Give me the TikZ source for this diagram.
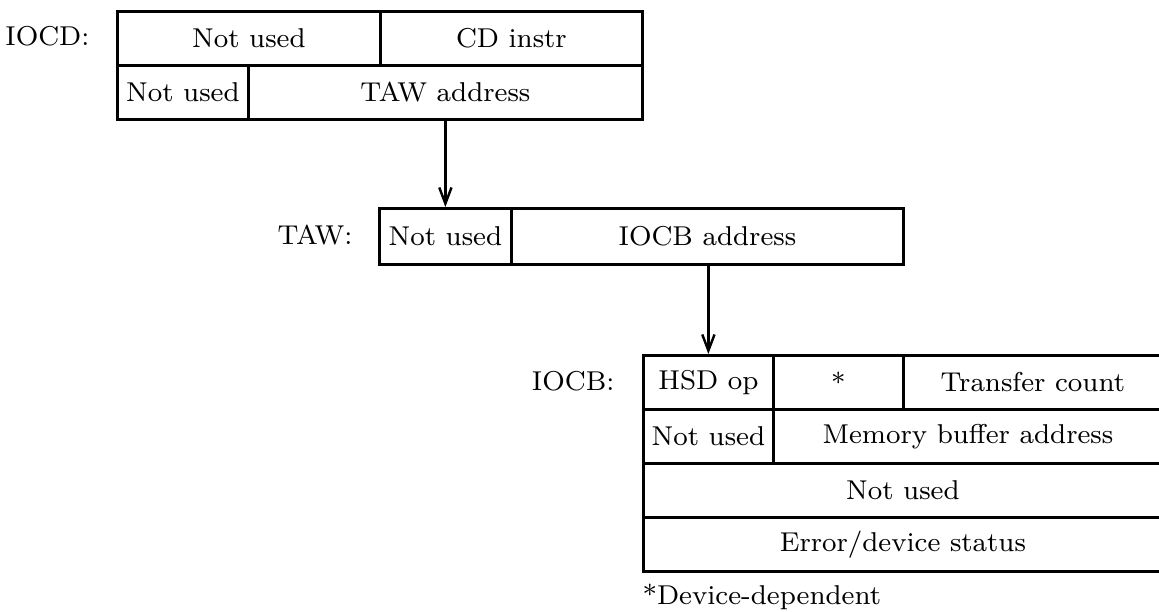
\documentclass[tikz,border=0pt]{standalone}
\usetikzlibrary{arrows.meta}
\newcommand\pxl{0.31pt}
\newcommand\mkcell[6]{\node[cell, minimum width={(#4-#2)*\pxl}, minimum height={(#5-#3)*\pxl}] (#1) at (#2,#3) {#6};}
\tikzset{
  every node/.style={font=\fontsize{8.45}{10}\selectfont, inner sep=0pt},
  cell/.style={draw, line width=0.85pt, anchor=north west, inner sep=0pt},
  lbl/.style={anchor=east},
  link/.style={line width=0.75pt, -{Straight Barb[length=5pt,width=3.8pt]}}
}
\begin{document}
\begin{tikzpicture}[x=0.31pt, y=-0.31pt]
\useasboundingbox (0,0) rectangle (1159,611);
% IOCD
\mkcell{A1}{116}{10}{379}{64}{Not used}
\mkcell{A2}{379}{10}{641}{64}{CD instr}
\mkcell{B1}{116}{64}{247}{118}{Not used}
\mkcell{B2}{247}{64}{641}{118}{TAW address}
\node[lbl] (iocdlbl) at (90,36) {IOCD:};
% TAW
\mkcell{T1}{378}{207}{510}{263}{Not used}
\mkcell{T2}{510}{207}{902}{263}{IOCB address}
\node[lbl] (tawlbl) at (353,235) {TAW:};
% IOCB
\mkcell{C1}{642}{354}{772}{408}{HSD op}
\mkcell{C2}{772}{354}{902}{408}{*}
\mkcell{C3}{902}{354}{1161}{408}{Transfer count}
\mkcell{D1}{642}{408}{772}{462}{Not used}
\mkcell{D2}{772}{408}{1161}{462}{Memory buffer address}
\mkcell{E1}{642}{462}{1161}{516}{Not used}
\mkcell{F1}{642}{516}{1161}{570}{Error/device status}
\node[lbl] (iocblbl) at (615,381) {IOCB:};
\node[anchor=base west] (note) at (642,604) {*Device-dependent};
% connectors
\draw[link] (T1.north |- B2.south) -- (T1.north);
\draw[link] (C1.north |- T2.south) -- (C1.north);
\end{tikzpicture}
\end{document}
